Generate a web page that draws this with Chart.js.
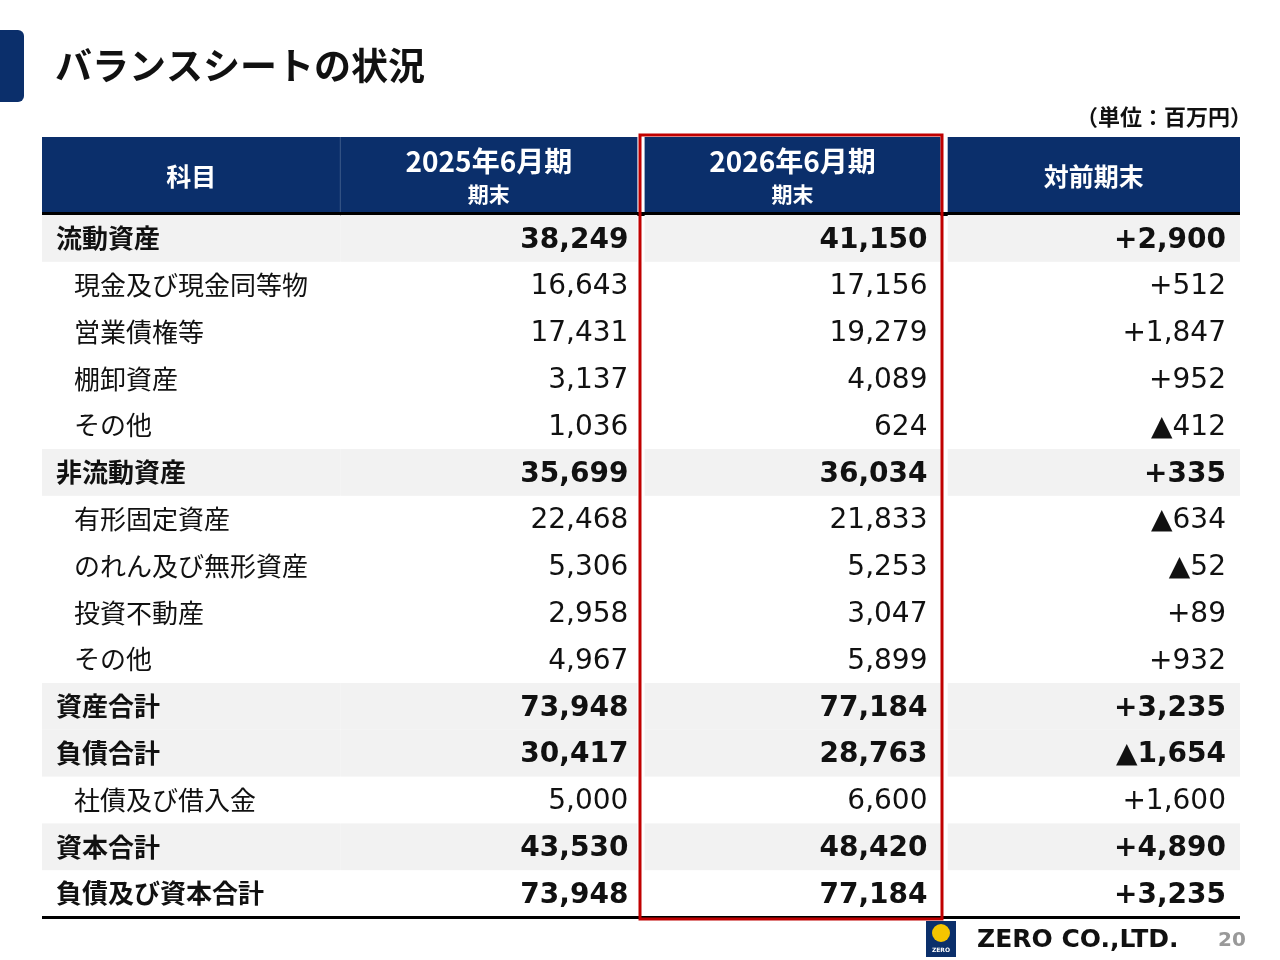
<!DOCTYPE html>
<html>
<head>
<meta charset="utf-8">
<script src="https://cdn.jsdelivr.net/npm/chart.js@4"></script>
<style>
  body { margin: 0; background: #fff; }
  canvas { display: block; }
</style>
</head>
<body>
<canvas id="bsChart" width="1280" height="960"></canvas>
<script>
/* datos de la tabla: [科目, 2025, 2026, 対前期末, negrita] */
const filas = [
    ["流動資産", "38,249", "41,150", "+2,900", true],
    ["現金及び現金同等物", "16,643", "17,156", "+512", false],
    ["営業債権等", "17,431", "19,279", "+1,847", false],
    ["棚卸資産", "3,137", "4,089", "+952", false],
    ["その他", "1,036", "624", "▲412", false],
    ["非流動資産", "35,699", "36,034", "+335", true],
    ["有形固定資産", "22,468", "21,833", "▲634", false],
    ["のれん及び無形資産", "5,306", "5,253", "▲52", false],
    ["投資不動産", "2,958", "3,047", "+89", false],
    ["その他", "4,967", "5,899", "+932", false],
    ["資産合計", "73,948", "77,184", "+3,235", true],
    ["負債合計", "30,417", "28,763", "▲1,654", true],
    ["社債及び借入金", "5,000", "6,600", "+1,600", false],
    ["資本合計", "43,530", "48,420", "+4,890", true],
    ["負債及び資本合計", "73,948", "77,184", "+3,235", true],
];
const grises = [0, 5, 10, 11, 13];
// columnas en fracción del eje x
const cols = [[0, 0.249], [0.249, 0.497], [0.503, 0.75], [0.756, 1]];
const padDer = [0, 9, 13, 14];
const jp = '"Noto Sans CJK JP"';
const num = '"DejaVu Sans"';

const tablaPlugin = {
    id: "tabla",
    afterDraw(chart) {
        const ctx = chart.ctx;
        const x = chart.scales.x, y = chart.scales.y;
        const area = chart.chartArea;
        const rowH = (area.bottom - area.top) / filas.length;
        const px = f => x.getPixelForValue(f);

        // título
        ctx.fillStyle = "#0b2f6b";
        ctx.beginPath();
        ctx.roundRect(-10, 30, 34, 72, 6);
        ctx.fill();
        ctx.fillStyle = "#111";
        ctx.font = "bold 37px " + jp;
        ctx.textBaseline = "middle";
        ctx.textAlign = "left";
        ctx.fillText("バランスシートの状況", 55, 66);
        ctx.font = "bold 22px " + jp;
        ctx.textAlign = "right";
        ctx.fillText("（単位：百万円）", 1252, 117);

        // cabecera
        const hTop = 137, hBot = area.top - 2;
        ctx.fillStyle = "#0b2f6b";
        ctx.fillRect(px(0), hTop, px(cols[1][1]) - px(0), hBot - hTop);
        cols.slice(2).forEach(c => ctx.fillRect(px(c[0]), hTop, px(c[1]) - px(c[0]), hBot - hTop));
        ctx.strokeStyle = "#3d5a8a";
        ctx.lineWidth = 1;
        ctx.beginPath();
        ctx.moveTo(px(0.249), hTop); ctx.lineTo(px(0.249), hBot); ctx.stroke();
        ctx.fillStyle = "#fff";
        ctx.textAlign = "center";
        const mid = c => (px(c[0]) + px(c[1])) / 2;
        ctx.font = "bold 25px " + jp;
        ctx.fillText("科目", mid(cols[0]), 176);
        ctx.fillText("対前期末", mid(cols[3]), 176);
        ["2025年6月期", "2026年6月期"].forEach((t, i) => {
            ctx.font = "bold 28px " + jp;
            ctx.fillText(t, mid(cols[i + 1]), 161);
            ctx.font = "bold 21px " + jp;
            ctx.fillText("期末", mid(cols[i + 1]), 194);
        });
        ctx.fillStyle = "#000";
        ctx.fillRect(px(0), hBot - 1, px(1) - px(0), 4);

        // filas
        filas.forEach((f, i) => {
            const cy = y.getPixelForValue(i);
            if (grises.includes(i)) {
                ctx.fillStyle = "#f2f2f2";
                cols.forEach(c => ctx.fillRect(px(c[0]), cy - rowH / 2, px(c[1]) - px(c[0]), rowH));
            }
            ctx.fillStyle = "#111";
            ctx.textAlign = "left";
            ctx.font = (f[4] ? "bold " : "") + "26px " + jp;
            ctx.fillText(f[0], px(0) + (f[4] ? 14 : 32), cy);
            ctx.textAlign = "right";
            ctx.font = (f[4] ? "bold " : "") + "28px " + num;
            for (let k = 1; k <= 3; k++) {
                ctx.fillText(f[k], px(cols[k][1]) - padDer[k], cy + 2);
            }
        });
        ctx.fillStyle = "#000";
        ctx.fillRect(px(0), area.bottom - 1, px(1) - px(0), 3);

        // marco rojo
        ctx.strokeStyle = "#c00000";
        ctx.lineWidth = 3;
        ctx.strokeRect(640, 135, 942 - 640, area.bottom + 2 - 135);

        // pie
        ctx.fillStyle = "#0b2f6b";
        ctx.fillRect(926, 921, 30, 36);
        ctx.fillStyle = "#f5c400";
        ctx.beginPath(); ctx.arc(941, 933, 9, 0, Math.PI * 2); ctx.fill();
        ctx.fillStyle = "#fff";
        ctx.font = "bold 6px " + num;
        ctx.textAlign = "center";
        ctx.fillText("ZERO", 941, 950);
        ctx.fillStyle = "#111";
        ctx.font = "bold 25px " + num;
        ctx.textAlign = "left";
        ctx.fillText("ZERO CO.,LTD.", 977, 940);
        ctx.fillStyle = "#999";
        ctx.font = "bold 20px " + num;
        ctx.fillText("20", 1218, 941);
    }
};

document.addEventListener("DOMContentLoaded", function () {
    new Chart(document.getElementById("bsChart"), {
        type: "bar",
        data: {
            labels: filas.map(f => f[0]),
            datasets: [{ data: [] }],
        },
        options: {
            responsive: false,
            animation: false,
            indexAxis: "y",
            layout: { padding: { left: 42, right: 40, top: 215, bottom: 43 } },
            plugins: { legend: { display: false }, tooltip: { enabled: false } },
            scales: {
                x: { type: "linear", min: 0, max: 1, display: false },
                y: { type: "category", display: false, offset: true },
            },
        },
        plugins: [tablaPlugin],
    });
});
</script>
</body>
</html>
